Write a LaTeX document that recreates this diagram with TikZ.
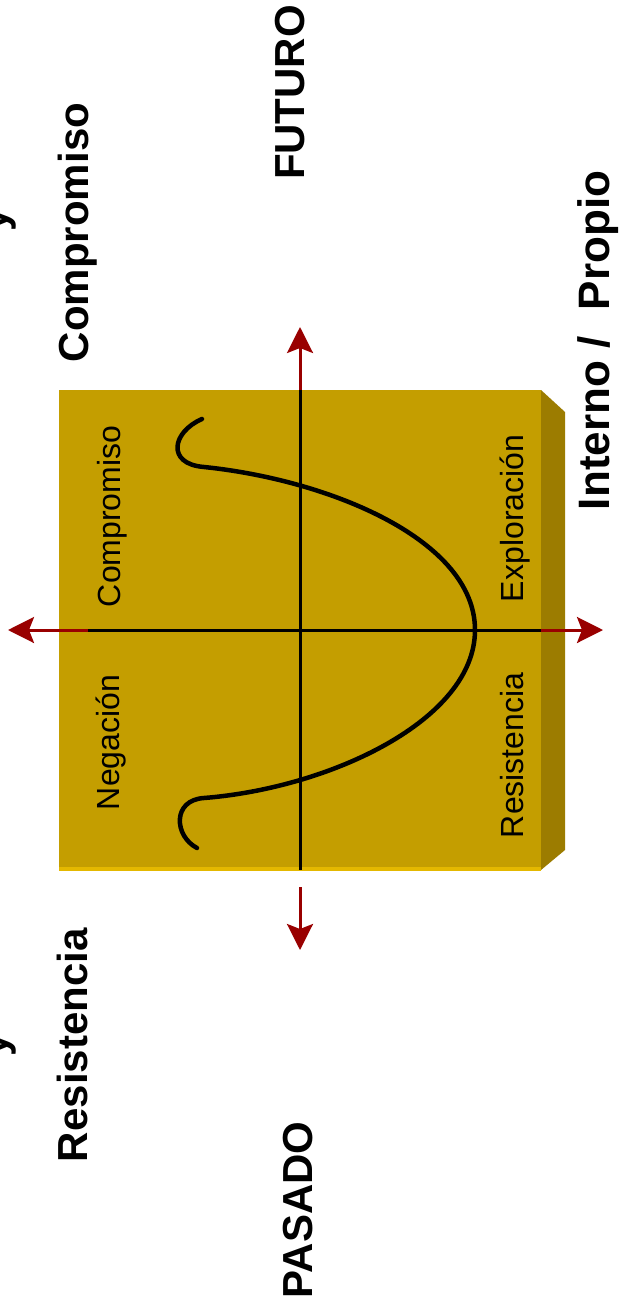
\documentclass[tikz,border=0pt]{standalone}
\usepackage{fontspec}
\setmainfont{Liberation Sans}
\usetikzlibrary{arrows.meta}
\definecolor{boxgold}{RGB}{196,158,0}
\definecolor{boxside}{RGB}{156,124,0}
\definecolor{boxedge}{RGB}{228,184,0}
\definecolor{axisred}{RGB}{153,0,0}
\tikzset{
  bigtitle/.style={rotate=90, anchor=base west, inner sep=0pt, outer sep=0pt,
    font=\fontsize{42}{50}\selectfont\bfseries},
  quadlabel/.style={rotate=90, anchor=base west, inner sep=0pt, outer sep=0pt,
    font=\fontsize{32}{38}\selectfont},
  axisline/.style={line width=3pt, black},
  redarrow/.style={line width=3pt, axisred,
    -{Stealth[length=26pt, width=26pt, inset=5pt]}},
  curveline/.style={line width=4.5pt, black, line cap=round, line join=round}
}
\begin{document}
\begin{tikzpicture}[x=1pt, y=-1pt]
\useasboundingbox (0,0) rectangle (619,1313);

% three-dimensional panel: side face, front face, lit bottom edge
\fill[boxside] (541,390) -- (565,412) -- (565,850) -- (541,870) -- cycle;
\fill[boxgold] (59,390) rectangle (541,870);
\fill[boxedge] (59,867) rectangle (541,871);

% axis end points
\coordinate (vtop) at (300,390);
\coordinate (vbot) at (300,870);
\coordinate (hleft) at (88,630);
\coordinate (hright) at (541,630);
\coordinate (uptip) at (300,327);
\coordinate (downstart) at (300,887);
\coordinate (downtip) at (300,950);
\coordinate (lefttip) at (8,630);
\coordinate (righttip) at (603,630);

% black axes across the panel
\draw[axisline] (vtop) -- (vbot);
\draw[axisline] (hleft) -- (hright);

% red arrows leaving the panel
\draw[redarrow] (vtop) -- (uptip);
\draw[redarrow] (downstart) -- (downtip);
\draw[redarrow] (hleft) -- (lefttip);
\draw[redarrow] (hright) -- (righttip);

% the change curve: upper hook, two branches meeting at the vertex, lower hook
\coordinate (hookA) at (202,419);
\coordinate (joinA) at (204,467);
\coordinate (vertex) at (475,630);
\coordinate (joinB) at (204,798);
\coordinate (hookB) at (197,848);
\draw[curveline] (hookA) .. controls (172,432) and (166,464) .. (joinA)
  .. controls (330,480) and (475,540) .. (vertex)
  .. controls (475,720) and (330,788) .. (joinB)
  .. controls (172,800) and (174,836) .. (hookB);

% quadrant labels
\node[quadlabel] (qc) at (120,607) {Compromiso};
\node[quadlabel] (qn) at (119,810) {Negación};
\node[quadlabel] (qe) at (523,602) {Exploración};
\node[quadlabel] (qr) at (523,838) {Resistencia};

% outer labels
\node[bigtitle] (ytop) at (8,232) {y};
\node[bigtitle] (comp) at (88,362) {Compromiso};
\node[bigtitle] (fut) at (304,180) {FUTURO};
\node[bigtitle] (ybot) at (8,1056) {y};
\node[bigtitle] (res) at (87,1162) {Resistencia};
\node[bigtitle] (pas) at (312,1298) {PASADO};
\node[bigtitle, font=\fontsize{44}{52}\selectfont\bfseries] (intp) at (609,510)
  {Interno /\hspace{0.6em}Propio};
\end{tikzpicture}
\end{document}
